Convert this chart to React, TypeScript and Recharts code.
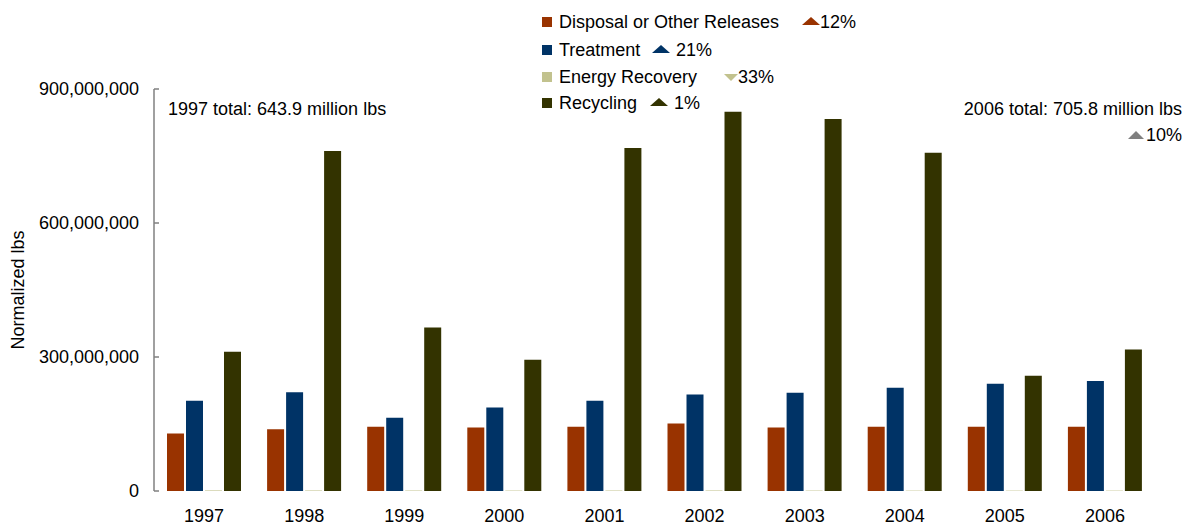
import React from 'react';
import { BarChart, Bar, XAxis, YAxis } from 'recharts';

// Years on the x axis
const years = ['1997', '1998', '1999', '2000', '2001', '2002', '2003', '2004', '2005', '2006'];

// Normalized pounds, millions
const disposal = [128.6, 138, 144, 142, 144, 151, 142, 144, 144, 144];
const treatment = [202, 221, 164, 187, 202, 216, 220, 231, 240, 246];
const energyRecovery = [1.3, 1.2, 1.1, 1.0, 1.1, 1.2, 1.0, 0.9, 0.9, 0.9];
const recycling = [312, 761, 366, 294, 768, 849, 833, 757, 258, 317];

// Change from 1997 to 2006, one per series
const changeLabels = ['12%', '21%', '33%', '1%'];
const changeUp = [true, true, false, true];

const yTicks = [0, 300000000, 600000000, 900000000];

const seriesNames = ['Disposal or Other Releases', 'Treatment', 'Energy Recovery', 'Recycling'];
const seriesColors = ['#993300', '#003366', '#C2C28E', '#333300'];

const data = years.map((year, i) => ({
  year,
  disposal: disposal[i] * 1e6,
  treatment: treatment[i] * 1e6,
  energy: energyRecovery[i] * 1e6,
  recycling: recycling[i] * 1e6,
}));

const FONT = '"Liberation Sans", Arial, sans-serif';

// x of the change triangle for each legend row, relative to legend's left edge
const triangleX = [267, 117, 189, 115];
const rowY = [22, 50, 77, 103];

const Triangle = ({ up, color, w, h }: { up: boolean; color: string; w: number; h: number }) => (
  <svg width={w} height={h} style={{ display: 'block' }}>
    <polygon points={up ? `0,${h} ${w / 2},0 ${w},${h}` : `0,0 ${w},0 ${w / 2},${h}`} fill={color} />
  </svg>
);

const ChartLegend = () => (
  <div
    style={{
      position: 'absolute',
      left: 535,
      top: 0,
      width: 320,
      height: 120,
      fontFamily: FONT,
      fontSize: 18,
    }}
  >
    {seriesNames.map((name, i) => (
      <React.Fragment key={name}>
        <div
          style={{
            position: 'absolute',
            left: 7,
            top: rowY[i] - 5,
            width: 10,
            height: 10,
            background: seriesColors[i],
          }}
        />
        <div style={{ position: 'absolute', left: 24, top: rowY[i] - 11, lineHeight: '22px', whiteSpace: 'nowrap' }}>
          {name}
        </div>
        <div style={{ position: 'absolute', left: triangleX[i], top: rowY[i] - (changeUp[i] ? 5 : 3) }}>
          <Triangle up={changeUp[i]} color={seriesColors[i]} w={changeUp[i] ? 18 : 14} h={changeUp[i] ? 8 : 7} />
        </div>
        <div
          style={{
            position: 'absolute',
            left: triangleX[i] + (changeUp[i] ? (i === 0 ? 18 : 24) : 14),
            top: rowY[i] - 11,
            lineHeight: '22px',
          }}
        >
          {changeLabels[i]}
        </div>
      </React.Fragment>
    ))}
  </div>
);

const App = () => {
  return (
    <div style={{ position: 'absolute', left: 0, top: 0, width: 1184, height: 525, background: '#fff' }}>
      <BarChart
        width={1184}
        height={525}
        data={data}
        margin={{ top: 89, right: 29, bottom: 3, left: 0 }}
        barSize={17}
        barGap={2}
      >
        <XAxis
          dataKey="year"
          axisLine={false}
          tickLine={false}
          tickMargin={12}
          height={31}
          tick={{ fontSize: 18, fill: '#000', fontFamily: FONT }}
          interval={0}
        />
        <YAxis
          width={154}
          domain={[0, 900000000]}
          ticks={yTicks}
          interval={0}
          axisLine={{ stroke: '#808080', strokeWidth: 1.5 }}
          tickLine={{ stroke: '#808080', strokeWidth: 1.5 }}
          tickSize={-5}
          tickMargin={20}
          tick={{ fontSize: 18, fill: '#000', fontFamily: FONT }}
          tickFormatter={(v: number) => v.toLocaleString('en-US')}
          label={({ viewBox }: any) => (
            <text
              x={18}
              y={viewBox.y + viewBox.height / 2}
              transform={`rotate(-90, 18, ${viewBox.y + viewBox.height / 2})`}
              textAnchor="middle"
              dominantBaseline="central"
              fontSize={18}
              fontFamily={FONT}
              fill="#000"
            >
              Normalized lbs
            </text>
          )}
        />
        <Bar dataKey="disposal" name={seriesNames[0]} fill={seriesColors[0]} isAnimationActive={false} />
        <Bar dataKey="treatment" name={seriesNames[1]} fill={seriesColors[1]} isAnimationActive={false} />
        <Bar dataKey="energy" name={seriesNames[2]} fill={seriesColors[2]} isAnimationActive={false} />
        <Bar dataKey="recycling" name={seriesNames[3]} fill={seriesColors[3]} isAnimationActive={false} />
      </BarChart>
      <ChartLegend />
      <div
        style={{
          position: 'absolute',
          left: 168,
          top: 98,
          fontFamily: FONT,
          fontSize: 18,
          lineHeight: '22px',
          whiteSpace: 'nowrap',
        }}
      >
        1997 total: 643.9 million lbs
      </div>
      <div
        style={{
          position: 'absolute',
          right: 2,
          top: 98,
          fontFamily: FONT,
          fontSize: 18,
          lineHeight: '22px',
          whiteSpace: 'nowrap',
          textAlign: 'right',
        }}
      >
        2006 total: 705.8 million lbs
      </div>
      <div
        style={{
          position: 'absolute',
          right: 2,
          top: 124,
          fontFamily: FONT,
          fontSize: 18,
          lineHeight: '22px',
          display: 'flex',
          alignItems: 'center',
          gap: 2,
        }}
      >
        <Triangle up color="#808080" w={16} h={8} />
        <span>10%</span>
      </div>
    </div>
  );
};

export default App;
